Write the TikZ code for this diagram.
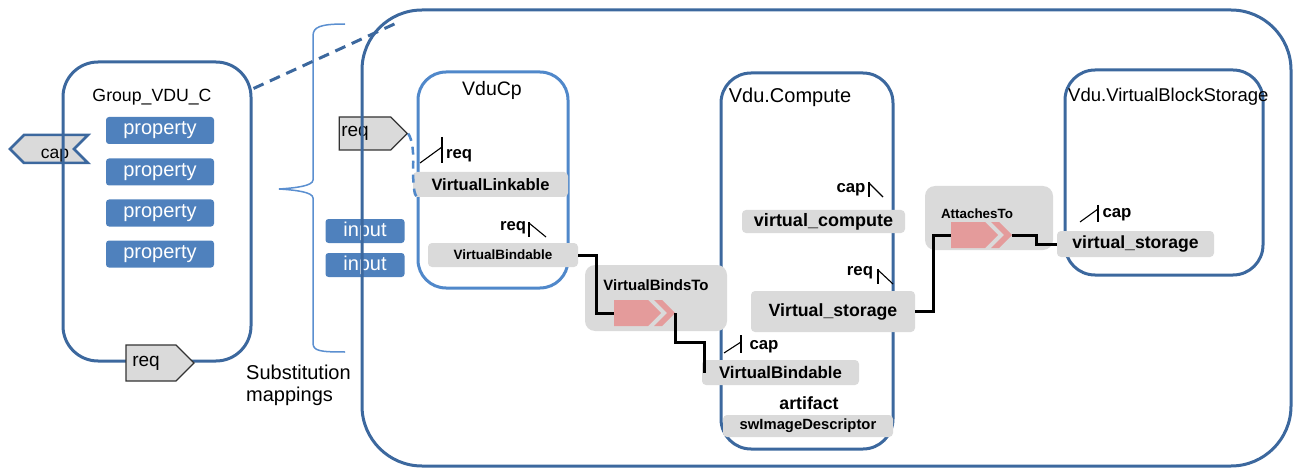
\documentclass[tikz,border=0pt]{standalone}
\usepackage{fontspec}
\setmainfont{Liberation Sans}
\usetikzlibrary{shapes.symbols,calc}
\definecolor{dblue}{RGB}{60,104,158}
\definecolor{lblue}{RGB}{80,136,202}
\definecolor{bracec}{RGB}{91,143,208}
\definecolor{propc}{RGB}{79,129,189}
\definecolor{gfill}{RGB}{218,218,218}
\definecolor{pinkc}{RGB}{228,155,155}
\newcommand\myfs[1]{\fontsize{#1}{#1}\selectfont}
\tikzset{
  pinkarr/.pic={
    \fill[pinkc] (-31,-13) -- (3,-13) -- (16,0) -- (3,13) -- (-31,13) -- cycle;
    \fill[pinkc] (9,-13) -- (17,-13) -- (30,0) -- (17,13) -- (9,13) -- (22,0) -- cycle;
    \coordinate (-in) at (-31,0);
    \coordinate (-out) at (30,0);
  }
}
\begin{document}
\begin{tikzpicture}[x=1pt,y=-1pt,
  cont/.style={draw=dblue,line width=3pt,rounded corners=#1,inner sep=0pt},
  titl/.style={inner sep=0pt,font=\myfs{#1}},
  prop/.style={fill=propc,rounded corners=3pt,text=white,font=\myfs{20},minimum width=108pt,minimum height=27pt,inner sep=0pt},
  gbox/.style={fill=gfill,rounded corners=4pt,inner sep=0pt,font=\bfseries\myfs{#1}},
  lbl/.style={inner sep=0pt,font=\bfseries\myfs{#1}},
  sym/.style={draw=black,line width=1.1pt},
  conn/.style={draw=black,line width=3pt},
  ptr/.style={shape=signal,fill=gfill,draw=black!80,line width=1.3pt,signal pointer angle=90,inner sep=0pt,font=\myfs{19}},
]
\useasboundingbox (0,0) rectangle (1294,468);

% pointers and inputs under the frames
\node[ptr,draw=dblue,line width=2.5pt,signal to=west,signal from=east,minimum width=78pt,minimum height=28pt,font=\myfs{17.5}] (capp) at (49,149) {\hspace*{12pt}\raisebox{-10pt}[0pt][0pt]{cap}};
\node[ptr,signal to=east,minimum width=68pt,minimum height=33pt] (rq2p) at (365,133.5) {req\hspace*{20pt}};
\node[prop,minimum width=79pt,minimum height=24pt] (in1) at (365,231) {input};
\node[prop,minimum width=79pt,minimum height=24pt] (in2) at (365,265) {input};

% frames
\node[cont=35pt,minimum width=188pt,minimum height=299pt] (grp) at (157,211.5) {};
\node[cont=60pt,minimum width=929pt,minimum height=456pt] (outer) at (826.5,238) {};
\node[cont=28pt,draw=lblue,minimum width=150pt,minimum height=216pt] (vducp) at (493,180) {};
\node[cont=30pt,minimum width=172pt,minimum height=376pt] (vduc) at (807,261) {};
\node[cont=30pt,minimum width=198pt,minimum height=205pt] (vbs) at (1164,172.5) {};

% titles
\node[titl=17.7] (grpt) at (152,97) {Group\_VDU\_C};
\node[titl=19.5] (vducpt) at (492,90) {VduCp};
\node[titl=20] (vduct) at (790,97) {Vdu.Compute};
\node[titl=18.5,anchor=west] (vbst) at (1068,97) {Vdu.VirtualBlockStorage};

% group contents
\node[prop] (p1) at (160,130.5) {property};
\node[prop] (p2) at (160,172) {property};
\node[prop] (p3) at (160,213) {property};
\node[prop] (p4) at (160,254) {property};
\node[ptr,signal to=east,minimum width=68pt,minimum height=36pt] (rqb) at (151,363) {req\hspace*{10pt}};

% brace and substitution mappings
\draw[bracec,line width=1.5pt] (345,24) .. controls (320,24) and (313,27) .. (313,36) -- (313,180)
  .. controls (313,186) and (295,188) .. (279,189) .. controls (295,190) and (313,192) .. (313,198)
  -- (313,343) .. controls (313,351) and (320,352) .. (345,352);
\node[anchor=west,align=left,inner sep=0pt,font=\fontsize{20}{22}\selectfont] (subst) at (246,385) {Substitution\\mappings};

% VduCp contents
\node[gbox=16.5,minimum width=155pt,minimum height=25pt] (vl) at (490.5,184.5) {VirtualLinkable};
\node[lbl=16.7] (rq1) at (459,156) {req};
\draw[sym] (420,163) -- (442,147);
\draw[sym] (442,137) -- (442,163);
\node[gbox=13.5,minimum width=150pt,minimum height=24pt] (vb1) at (503,255) {VirtualBindable};
\node[lbl=16.7] (rqv) at (513,228) {req};
\draw[sym] (529,222) -- (529,237);
\draw[sym] (529,223) -- (546,237);

% dashed mapping lines
\draw[dblue,line width=3pt,dash pattern=on 11pt off 7pt] ($(grp.north east)+(1,28)$) -- ($(outer.north west)+(35,15)$);
\draw[lblue,line width=2.5pt,dash pattern=on 8pt off 6pt] (rq2p.east) .. controls +(10,15) and +(-8,-12) .. ([xshift=4pt]vl.south west);

% VirtualBindsTo
\node[fill=gfill,rounded corners=10pt,minimum width=142pt,minimum height=66pt,inner sep=0pt] (bind) at (656,298) {};
\node[lbl=15] (bindt) at (656,285) {VirtualBindsTo};

% Vdu.Compute contents
\node[lbl=16.8] (cap1) at (851,190) {cap};
\draw[sym] (869,182) -- (869,197);
\draw[sym] (869,183) -- (883,197);
\node[gbox=18,minimum width=163pt,minimum height=23pt] (vcomp) at (823.5,221.5) {virtual\_compute};
\node[lbl=16.8] (rq3) at (860,273) {req};
\draw[sym] (878,269) -- (878,284);
\draw[sym] (878,270) -- (893,284);
\node[gbox=17.7,minimum width=164pt,minimum height=41pt] (vstor) at (833,311.5) {Virtual\_storage};
\node[lbl=16.8] (cap2) at (764,347) {cap};
\draw[sym] (724,353) -- (741,342);
\draw[sym] (741,335) -- (741,353);
\node[gbox=16.8,minimum width=157pt,minimum height=25pt] (vb2) at (780.5,372.5) {VirtualBindable};
\node[lbl=17.7] (art) at (809,403) {artifact};
\node[gbox=14.8,minimum width=170pt,minimum height=22pt] (swid) at (808,426) {swImageDescriptor};

% AttachesTo
\node[fill=gfill,rounded corners=10pt,minimum width=128pt,minimum height=64pt,inner sep=0pt] (att) at (989,218) {};
\node[lbl=13.4] (attt) at (977,214) {AttachesTo};

% VirtualBlockStorage contents
\node[lbl=16.8] (cap3) at (1117,215) {cap};
\draw[sym] (1080,222) -- (1098,209);
\draw[sym] (1098,205) -- (1098,222);
\node[gbox=17.6,minimum width=157pt,minimum height=26pt] (vstor2) at (1135.5,244) {virtual\_storage};

% relationship arrows
\pic (arr1) at (645,313) {pinkarr};
\pic (arr2) at (982,235) {pinkarr};

% connectors
\draw[conn] (vb1.east) -- ++(18,0) |- (arr1-in);
\draw[conn] (arr1-out) -- ++(0,29) -| ([xshift=3pt]vb2.west);
\draw[conn] (vstor.east) -- ++(18,0) |- (arr2-in);
\draw[conn] (arr2-out) -- ++(24,0) |- (vstor2.west);
\end{tikzpicture}
\end{document}
